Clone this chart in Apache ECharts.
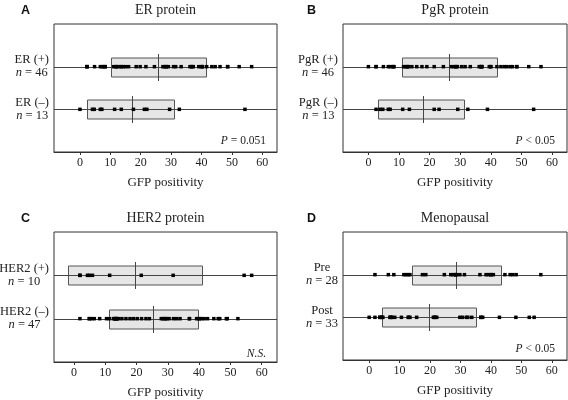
<!DOCTYPE html>
<html>
<head>
<meta charset="utf-8">
<script src="https://cdn.jsdelivr.net/npm/echarts@6/dist/echarts.min.js"></script>
<style>
html,body{margin:0;padding:0;background:#fff;}
#chart{width:568px;height:400px;}
</style>
</head>
<body>
<div id="chart"></div>
<script>
// ---------- DATA ----------
const xTickValues = [0, 10, 20, 30, 40, 50, 60];
const axisTitle = 'GFP positivity';

const panelLetters = ['A', 'B', 'C', 'D'];
const panelTitles = ['ER protein', 'PgR protein', 'HER2 protein', 'Menopausal'];
const pTexts = [['P', ' = 0.051'], ['P', ' < 0.05'], ['N.S.', ''], ['P', ' < 0.05']];

// row labels: [top row, bottom row]
const rowNames = [['ER (+)', 'ER (–)'], ['PgR (+)', 'PgR (–)'], ['HER2 (+)', 'HER2 (–)'], ['Pre', 'Post']];
const rowN = [[46, 13], [46, 13], [10, 47], [28, 33]];

// x-axis extents per panel
const xMins = [-8.55, -8.3, -6.4, -8.6];
const xMaxs = [64.85, 64.9, 64.9, 65];

// box stats [q1, median, q3] per row (top, bottom)
const boxA = [[10.2, 25.8, 41.4], [2.4, 17.2, 31.2]];
const boxB = [[10.9, 26.5, 42.0], [3.3, 17.7, 31.4]];
const boxC = [[-2.0, 19.4, 40.8], [11.3, 25.1, 39.6]];
const boxD = [[14.1, 28.5, 43.2], [4.2, 19.6, 35.0]];

// individual values
const erPos = [2.3, 2.3, 2.3, 4.8, 6.7, 7.3, 7.8, 8.3, 8.3, 11.1, 11.8, 12.0, 12.4, 13.5, 13.5, 14.3, 15.0, 16.0, 18.5, 19.8, 21.7, 24.5, 27.3, 27.8, 28.4, 28.4, 29.1, 30.8, 31.5, 33.3, 36.2, 36.8, 36.8, 37.3, 39.1, 39.9, 40.3, 40.3, 41.7, 43.4, 44.5, 46.1, 48.6, 48.6, 52.4, 56.5];
const erNeg = [0, 4.1, 4.7, 6.7, 7.2, 11.4, 13.6, 17.6, 21.2, 22.0, 29.5, 32.7, 54.3];
const pgrPos = [0, 2.5, 2.5, 4.9, 6.5, 7.1, 7.9, 8.3, 8.3, 11.5, 12.0, 12.7, 12.7, 13.1, 14.2, 15.8, 17.5, 19.1, 21.5, 24.5, 27.1, 28.0, 28.6, 28.6, 29.1, 30.5, 31.6, 33.3, 36.2, 36.8, 36.8, 37.1, 37.1, 39.5, 40.0, 40.0, 42.0, 43.3, 44.4, 45.3, 46.4, 47.1, 48.5, 48.5, 52.4, 56.4];
const pgrNeg = [2.5, 3.8, 4.7, 6.5, 7.1, 11.2, 13.4, 21.5, 23.1, 29.2, 32.5, 38.9, 54.0];
const her2Pos = [1.9, 1.9, 4.3, 4.9, 5.9, 11.4, 21.5, 31.7, 54.4, 56.8];
const her2Neg = [1.9, 4.9, 4.9, 5.7, 6.5, 8.2, 10.4, 11.3, 12.6, 13.0, 13.0, 13.4, 13.4, 13.7, 13.7, 14.2, 15.3, 16.6, 17.9, 19.0, 20.2, 21.6, 23.0, 24.1, 27.9, 28.4, 29.1, 29.1, 29.7, 30.4, 31.8, 32.8, 33.9, 36.9, 36.9, 39.2, 40.0, 40.0, 40.8, 41.6, 42.7, 44.7, 46.1, 46.6, 48.7, 49.0, 52.4];
const preVals = [1.9, 6.3, 8.1, 11.4, 12.1, 12.8, 13.4, 17.5, 18.6, 24.7, 26.8, 27.6, 28.4, 28.4, 28.7, 29.8, 31.3, 36.4, 38.4, 39.2, 40.0, 40.0, 40.8, 44.6, 46.3, 47.2, 48.3, 56.4];
const postVals = [0, 1.9, 3.5, 3.5, 4.1, 4.1, 4.5, 6.8, 7.0, 7.3, 7.3, 8.4, 10.6, 12.8, 13.0, 13.4, 15.6, 21.1, 21.6, 21.6, 22.2, 29.8, 30.7, 32.0, 32.4, 33.7, 36.7, 36.7, 37.3, 42.8, 48.2, 52.6, 54.2];

const boxes = [boxA, boxB, boxC, boxD];
const points = [[erPos, erNeg], [pgrPos, pgrNeg], [her2Pos, her2Neg], [preVals, postVals]];

// ---------- LAYOUT / STYLE ----------
const grids = [
  {left: 54, top: 24, width: 223, height: 128},
  {left: 343, top: 24, width: 224, height: 128},
  {left: 54, top: 232, width: 223, height: 130},
  {left: 343, top: 232, width: 224, height: 128}
];
const letterPos = [[21, 4], [307, 4], [21, 212], [307, 212]];
const titleCenter = [[165.5, 3], [455, 3], [165.5, 211], [455, 211]];
const pPos = [[302, 135], [13, 135], [302, 348], [13, 343]];

const SERIF = "'Liberation Serif', 'DejaVu Serif', serif";
const SANS = "'Liberation Sans', Arial, sans-serif";
const TXT = '#222';
const BOX_HALF = 9.5;
const MED_HALF = 13.5;
const ROW_Y = [2, 1];

function renderBox(params, api) {
  const y = api.value(0);
  const p1 = api.coord([api.value(1), y]);
  const pm = api.coord([api.value(2), y]);
  const p3 = api.coord([api.value(3), y]);
  const cs = params.coordSys;
  const yy = Math.round(p1[1]) + 0.5;
  const xm = Math.round(pm[0]) + 0.5;
  return {
    type: 'group',
    children: [
      {type: 'rect', shape: {x: Math.round(p1[0]) + 0.5, y: Math.round(yy - BOX_HALF), width: Math.round(p3[0] - p1[0]), height: 2 * BOX_HALF},
       style: {fill: '#e6e6e6', stroke: '#555', lineWidth: 1}},
      {type: 'line', shape: {x1: cs.x, y1: yy, x2: cs.x + cs.width, y2: yy},
       style: {stroke: '#444', lineWidth: 1}},
      {type: 'line', shape: {x1: xm, y1: yy - MED_HALF, x2: xm, y2: yy + MED_HALF},
       style: {stroke: '#444', lineWidth: 1}}
    ]
  };
}

const option = {
  animation: false,
  backgroundColor: '#fff',
  title: [],
  grid: [],
  xAxis: [],
  yAxis: [],
  series: []
};

for (let i = 0; i < 4; i++) {
  option.grid.push(Object.assign({show: true, borderColor: '#333', borderWidth: 1, backgroundColor: 'transparent',
    containLabel: false, outerBoundsMode: 'none'}, grids[i]));
  option.xAxis.push({
    type: 'value', gridIndex: i, min: xMins[i], max: xMaxs[i],
    axisLine: {show: true, lineStyle: {color: '#333', width: 1}},
    axisTick: {show: true, customValues: xTickValues, length: 3, lineStyle: {color: '#333'}},
    axisLabel: {show: true, customValues: xTickValues, margin: 5, fontSize: 12, fontFamily: SERIF, color: TXT},
    splitLine: {show: false},
    name: axisTitle, nameLocation: 'middle', nameGap: 24,
    nameTextStyle: {fontSize: 13, fontFamily: SERIF, color: TXT}
  });
  const names = rowNames[i], ns = rowN[i];
  option.yAxis.push({
    type: 'value', gridIndex: i, min: 0, max: 3,
    axisLine: {show: false}, axisTick: {show: false}, splitLine: {show: false},
    axisLabel: {
      show: true, customValues: [1, 2], margin: 5, hideOverlap: false,
      formatter: function (v) {
        const k = v === 2 ? 0 : 1;
        return '{a|' + names[k] + '}\n{i|n}{a| = ' + ns[k] + '}';
      },
      rich: {
        a: {fontSize: 12.5, fontFamily: SERIF, color: TXT, align: 'center', lineHeight: 13},
        i: {fontSize: 12.5, fontFamily: SERIF, fontStyle: 'italic', color: TXT, align: 'center', lineHeight: 13}
      }
    }
  });
  // boxes + row lines
  option.series.push({
    type: 'custom', xAxisIndex: i, yAxisIndex: i, z: 1, silent: true,
    renderItem: renderBox,
    encode: {x: [1, 2, 3], y: 0},
    data: boxes[i].map((b, k) => [ROW_Y[k], b[0], b[1], b[2]])
  });
  // points
  const pts = [];
  points[i].forEach((arr, k) => arr.forEach(v => pts.push([v, ROW_Y[k]])));
  option.series.push({
    type: 'scatter', xAxisIndex: i, yAxisIndex: i, z: 3, silent: true,
    symbol: 'rect', symbolSize: 3.5,
    itemStyle: {color: '#000', opacity: 1},
    data: pts
  });

  // panel letter
  option.title.push({
    text: panelLetters[i], left: letterPos[i][0], top: letterPos[i][1], padding: 0,
    textStyle: {fontSize: 12.5, fontWeight: 'bold', fontFamily: SANS, color: '#111'}
  });
  // panel title
  option.title.push({
    text: panelTitles[i], left: titleCenter[i][0], top: titleCenter[i][1], textAlign: 'center', padding: 0,
    textStyle: {fontSize: 14, fontWeight: 'normal', fontFamily: SERIF, color: TXT}
  });
  // p-value
  const pt = pTexts[i];
  option.title.push({
    text: '{i|' + pt[0] + '}' + (pt[1] ? '{a|' + pt[1] + '}' : ''),
    right: pPos[i][0], top: pPos[i][1], padding: 0,
    textStyle: {
      fontWeight: 'normal',
      rich: {
        a: {fontSize: 11.5, fontWeight: 'normal', fontFamily: SERIF, color: TXT},
        i: {fontSize: 11.5, fontWeight: 'normal', fontFamily: SERIF, fontStyle: 'italic', color: TXT}
      }
    }
  });
}

const chart = echarts.init(document.getElementById('chart'), null, {renderer: 'canvas'});
chart.setOption(option);
</script>
</body>
</html>
